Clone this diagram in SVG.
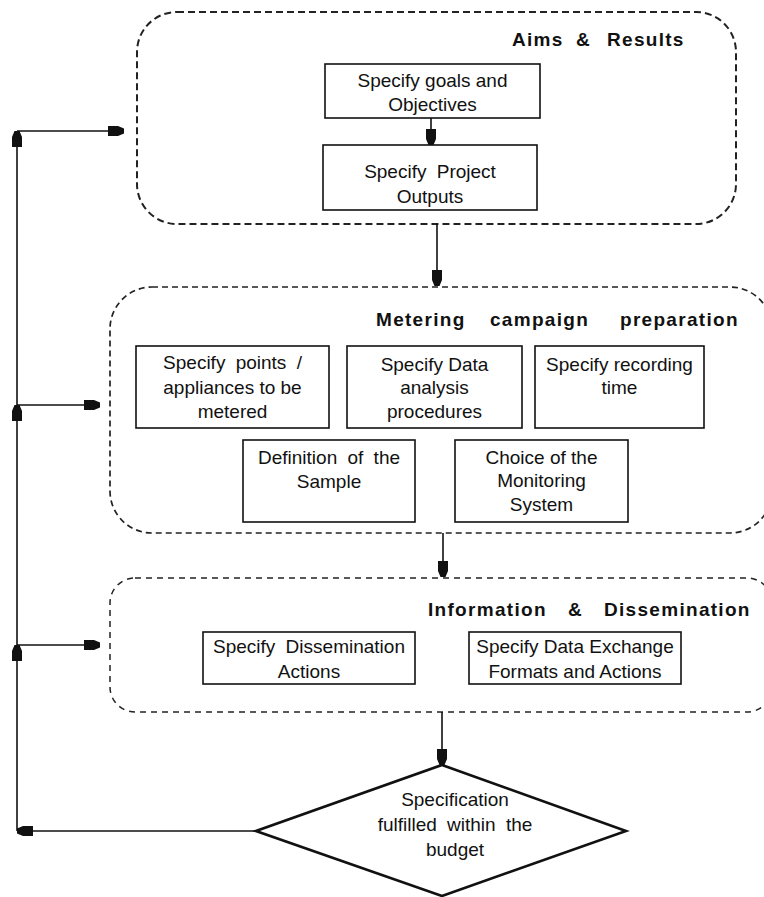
<svg xmlns="http://www.w3.org/2000/svg" width="764" height="897" viewBox="0 0 764 897">
<style>
.bg{fill:#fff}
.box{fill:#fff;stroke:#111;stroke-width:1.6}
.grp{fill:none;stroke:#222}
.t{font-family:"Liberation Sans",Arial,sans-serif;font-size:19px;fill:#111;text-anchor:middle}
.ws{word-spacing:5px}
.h{font-family:"Liberation Sans",Arial,sans-serif;font-size:19px;font-weight:bold;letter-spacing:1.3px;fill:#111}
.ln{fill:none;stroke:#111;stroke-width:1.6}
</style>
<defs>
<marker id="ah" viewBox="-16 -5 16 10" refX="0" refY="0" markerWidth="16" markerHeight="10" markerUnits="userSpaceOnUse" orient="auto">
<path d="M0,-2.5 L-6,-5 L-16,-5 L-16,5 L-6,5 L0,2.5 Z" fill="#111"/>
</marker>
</defs>
<rect class="bg" x="0" y="0" width="764" height="897"/>

<g id="aims-results">
<rect class="grp" x="137" y="12" width="599" height="212" rx="40" stroke-width="2" stroke-dasharray="7 4"/>
<text class="h" y="46"><tspan x="512">Aims</tspan><tspan x="576">&amp;</tspan><tspan x="607">Results</tspan></text>
</g>
<g id="goals">
<rect class="box" x="325" y="64" width="215" height="54"/>
<text class="t" x="432.5" y="87">Specify goals and</text>
<text class="t" x="432.5" y="111">Objectives</text>
</g>
<g id="outputs">
<rect class="box" x="323" y="145" width="214" height="65"/>
<text class="t ws" x="430" y="178">Specify Project</text>
<text class="t" x="430" y="203">Outputs</text>
</g>

<g id="metering-preparation">
<rect class="grp" x="110" y="287" width="662" height="246" rx="42" stroke-width="1.7" stroke-dasharray="6 4"/>
<text class="h" y="326"><tspan x="376">Metering</tspan><tspan x="490">campaign</tspan><tspan x="620">preparation</tspan></text>
</g>
<g id="points">
<rect class="box" x="136" y="346" width="193" height="82"/>
<text class="t ws" x="232.5" y="369">Specify points /</text>
<text class="t" x="232.5" y="394">appliances to be</text>
<text class="t" x="232.5" y="418">metered</text>
</g>
<g id="analysis">
<rect class="box" x="347" y="346" width="175" height="82"/>
<text class="t" x="434.5" y="371">Specify Data</text>
<text class="t" x="434.5" y="394">analysis</text>
<text class="t" x="434.5" y="418">procedures</text>
</g>
<g id="recording">
<rect class="box" x="535" y="346" width="169" height="82"/>
<text class="t" x="619.5" y="371">Specify recording</text>
<text class="t" x="619.5" y="394">time</text>
</g>
<g id="sample">
<rect class="box" x="243" y="440" width="172" height="82"/>
<text class="t ws" x="329" y="464">Definition of the</text>
<text class="t" x="329" y="488">Sample</text>
</g>
<g id="monitoring">
<rect class="box" x="455" y="440" width="173" height="82"/>
<text class="t" x="541.5" y="464">Choice of the</text>
<text class="t" x="541.5" y="487">Monitoring</text>
<text class="t" x="541.5" y="511">System</text>
</g>

<g id="information-dissemination">
<rect class="grp" x="110" y="578" width="662" height="134" rx="25" stroke-width="1.5" stroke-dasharray="6 5"/>
<text class="h" y="616"><tspan x="428">Information</tspan><tspan x="568">&amp;</tspan><tspan x="604">Dissemination</tspan></text>
</g>
<g id="dissemination-actions">
<rect class="box" x="203" y="632" width="212" height="52"/>
<text class="t ws" x="309" y="653">Specify Dissemination</text>
<text class="t" x="309" y="678">Actions</text>
</g>
<g id="exchange">
<rect class="box" x="469" y="632" width="212" height="52"/>
<text class="t" x="575" y="653">Specify Data Exchange</text>
<text class="t" x="575" y="678">Formats and Actions</text>
</g>

<g id="decision">
<polygon points="442,765 626,831 442,896 256,831" fill="#fff" stroke="#111" stroke-width="2.6" stroke-linejoin="miter"/>
<text class="t" x="455" y="806">Specification</text>
<text class="t ws" x="455" y="831">fulfilled within the</text>
<text class="t" x="455" y="856">budget</text>
</g>

<g id="connectors">
<path class="ln" d="M431,118 V145" marker-end="url(#ah)"/>
<path class="ln" d="M437,224 V286" marker-end="url(#ah)"/>
<path class="ln" d="M443,533 V577" marker-end="url(#ah)"/>
<path class="ln" d="M442,712 V765" marker-end="url(#ah)"/>
<path class="ln" d="M256,831 H17" marker-end="url(#ah)"/>
<path class="ln" d="M17,831 V645" marker-end="url(#ah)"/>
<path class="ln" d="M17,645 V405" marker-end="url(#ah)"/>
<path class="ln" d="M17,405 V131" marker-end="url(#ah)"/>
<path class="ln" d="M17,131 H124" marker-end="url(#ah)"/>
<path class="ln" d="M17,405 H100" marker-end="url(#ah)"/>
<path class="ln" d="M17,645 H100" marker-end="url(#ah)"/>
</g>
</svg>
